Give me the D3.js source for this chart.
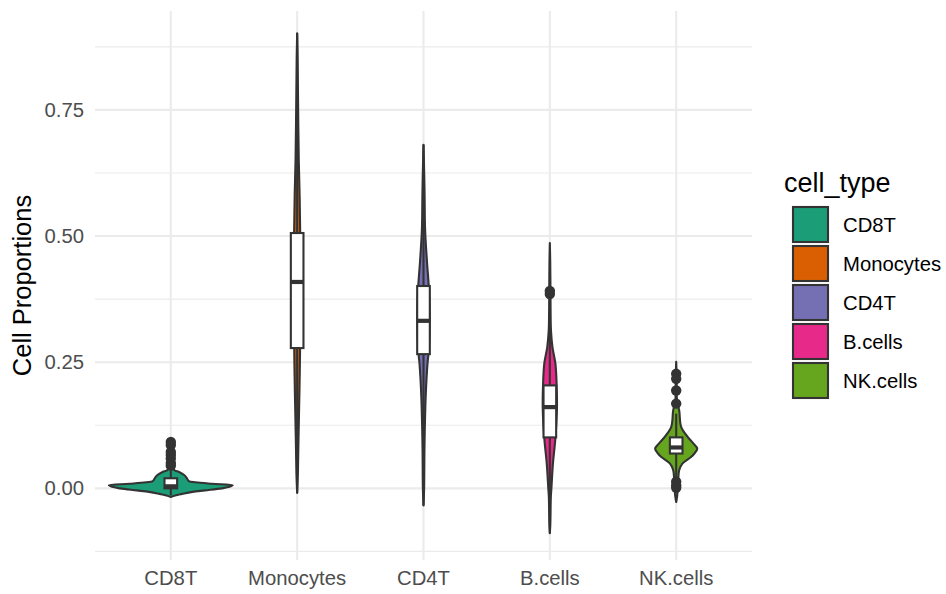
<!DOCTYPE html>
<html>
<head>
<meta charset="utf-8">
<script src="https://cdn.jsdelivr.net/npm/d3@7"></script>
<style>
  html, body { margin: 0; padding: 0; background: #ffffff; }
  svg { display: block; font-family: "Liberation Sans", Arial, Helvetica, sans-serif; }
</style>
</head>
<body>
<svg id="chart" width="946" height="594"></svg>
<script>
// Cell types in plotting order and their Dark2 fills
const categories = ["CD8T", "Monocytes", "CD4T", "B.cells", "NK.cells"];
const fillColors = ["#1B9E77", "#D95F02", "#7570B3", "#E7298A", "#66A61E"];

// Violin profiles: [proportion, relative density]
const densityCD8T = [[0.099,0],[0.09,0.02],[0.06,0.025],[0.04,0.04],[0.036,0.06],[0.032,0.14],[0.026,0.22],[0.02,0.26],[0.0145,0.29],[0.012,0.4],[0.009,0.67],[0.006,1.0],[0.003,0.95],[0.0,0.82],[-0.004,0.55],[-0.007,0.35],[-0.011,0.18],[-0.014,0.07],[-0.017,0]];
const densityMonocytes = [[0.902,0],[0.85,0.008],[0.75,0.016],[0.65,0.026],[0.58,0.04],[0.5,0.05],[0.41,0.056],[0.3,0.05],[0.2,0.038],[0.1,0.022],[0.03,0.012],[-0.009,0]];
const densityCD4T = [[0.681,0],[0.62,0.012],[0.578,0.018],[0.512,0.026],[0.446,0.058],[0.4,0.085],[0.33,0.1],[0.266,0.08],[0.248,0.065],[0.181,0.035],[0.082,0.016],[0.0,0.01],[-0.034,0]];
const densityBcells = [[0.486,0],[0.45,0.006],[0.39,0.01],[0.35,0.012],[0.313,0.018],[0.28,0.042],[0.247,0.09],[0.204,0.11],[0.16,0.115],[0.1,0.09],[0.049,0.05],[0.0,0.025],[-0.017,0.016],[-0.07,0.008],[-0.089,0]];
const densityNKcells = [[0.251,0],[0.22,0.008],[0.17,0.016],[0.155,0.048],[0.122,0.08],[0.102,0.185],[0.09,0.27],[0.079,0.34],[0.07,0.3],[0.062,0.24],[0.049,0.1],[0.036,0.048],[0.016,0.032],[0.0,0.024],[-0.015,0.016],[-0.027,0]];
const densities = [densityCD8T, densityMonocytes, densityCD4T, densityBcells, densityNKcells];

// Box plot summaries
const q1Values      = [0.0, 0.278, 0.266, 0.101, 0.069];
const medianValues  = [0.004, 0.409, 0.332, 0.161, 0.081];
const q3Values      = [0.02, 0.506, 0.401, 0.204, 0.101];
const whiskerLow    = [-0.014, -0.009, -0.034, -0.089, 0.022];
const whiskerHigh   = [0.038, 0.902, 0.681, 0.35, 0.148];
const outliers = [
  [0.092, 0.086, 0.072, 0.066, 0.059, 0.05, 0.045],
  [],
  [],
  [0.391, 0.385],
  [0.227, 0.217, 0.194, 0.168, 0.013, 0.006, 0.001]
];

// Axis ticks
const yMajorTicks = [0, 0.25, 0.5, 0.75];
const yTickLabels = ["0.00", "0.25", "0.50", "0.75"];
const yMinorTicks = [-0.125, 0.125, 0.375, 0.625, 0.875];

const svg = d3.select("#chart");
const panel = { left: 95, right: 752, top: 11, bottom: 560 };
const ink = "#333333";
const smallFont = 20.3, titleFont = 25.5, legendTitleFont = 27;

const x = d3.scaleBand()
  .domain(categories)
  .range([panel.left, panel.right])
  .paddingInner(0)
  .paddingOuter(0.1);
const cx = c => x(c) + x.bandwidth() / 2;

const y = d3.scaleLinear()
  .domain([-0.142, 0.946])
  .range([panel.bottom, panel.top]);

const halfWidth = d3.scaleLinear().domain([0, 1]).range([0, x.step() * 0.49]);

// Grid
const grid = svg.append("g");
grid.selectAll("line.minor").data(yMinorTicks).join("line")
  .attr("x1", panel.left).attr("x2", panel.right)
  .attr("y1", d => y(d)).attr("y2", d => y(d))
  .attr("stroke", "#ebebeb").attr("stroke-width", 1.1);
grid.selectAll("line.major").data(yMajorTicks).join("line")
  .attr("x1", panel.left).attr("x2", panel.right)
  .attr("y1", d => y(d)).attr("y2", d => y(d))
  .attr("stroke", "#ebebeb").attr("stroke-width", 2.1);
grid.selectAll("line.vert").data(categories).join("line")
  .attr("x1", d => cx(d)).attr("x2", d => cx(d))
  .attr("y1", panel.top).attr("y2", panel.bottom)
  .attr("stroke", "#ebebeb").attr("stroke-width", 2.1);

// Violins
const marks = svg.append("g");
categories.forEach((cat, i) => {
  const c = cx(cat);
  const area = d3.area()
    .y(d => y(d[0]))
    .x0(d => c - halfWidth(d[1]))
    .x1(d => c + halfWidth(d[1]))
    .curve(d3.curveCatmullRom);
  marks.append("path")
    .attr("d", area(densities[i]))
    .attr("fill", fillColors[i])
    .attr("stroke", ink)
    .attr("stroke-width", 2.1)
    .attr("stroke-linejoin", "round");
});

// Box plots
const boxW = x.step() * 0.1;
categories.forEach((cat, i) => {
  const c = cx(cat);
  const g = marks.append("g");
  g.append("line")
    .attr("x1", c).attr("x2", c)
    .attr("y1", y(q3Values[i])).attr("y2", y(whiskerHigh[i]))
    .attr("stroke", ink).attr("stroke-width", 2.1);
  g.append("line")
    .attr("x1", c).attr("x2", c)
    .attr("y1", y(q1Values[i])).attr("y2", y(whiskerLow[i]))
    .attr("stroke", ink).attr("stroke-width", 2.1);
  g.append("rect")
    .attr("x", c - boxW / 2).attr("width", boxW)
    .attr("y", y(q3Values[i])).attr("height", y(q1Values[i]) - y(q3Values[i]))
    .attr("fill", "#ffffff").attr("stroke", ink).attr("stroke-width", 2.1);
  g.append("line")
    .attr("x1", c - boxW / 2).attr("x2", c + boxW / 2)
    .attr("y1", y(medianValues[i])).attr("y2", y(medianValues[i]))
    .attr("stroke", ink).attr("stroke-width", 4.2);
  g.selectAll("circle").data(outliers[i]).join("circle")
    .attr("cx", c).attr("cy", d => y(d)).attr("r", 5.2)
    .attr("fill", ink);
});

// Axis labels
const axisText = "#4d4d4d";
svg.append("g").selectAll("text").data(yMajorTicks).join("text")
  .attr("x", 84).attr("y", d => y(d))
  .attr("dy", "0.35em")
  .attr("text-anchor", "end")
  .attr("font-size", smallFont).attr("fill", axisText)
  .text((d, i) => yTickLabels[i]);

svg.append("g").selectAll("text").data(categories).join("text")
  .attr("x", d => cx(d)).attr("y", 585)
  .attr("text-anchor", "middle")
  .attr("font-size", smallFont).attr("fill", axisText)
  .text(d => d);

svg.append("text")
  .attr("transform", `translate(31, ${(panel.top + panel.bottom) / 2}) rotate(-90)`)
  .attr("text-anchor", "middle")
  .attr("font-size", titleFont).attr("fill", "#000000")
  .text("Cell Proportions");

// Legend
const legend = svg.append("g").attr("transform", "translate(792, 0)");
legend.append("text")
  .attr("x", -8).attr("y", 192)
  .attr("font-size", legendTitleFont).attr("fill", "#000000")
  .text("cell_type");
const keyTop = 207, keyStep = 39, keySize = 35;
categories.forEach((cat, i) => {
  legend.append("rect")
    .attr("x", 1).attr("y", keyTop + i * keyStep)
    .attr("width", keySize).attr("height", keySize)
    .attr("fill", fillColors[i]).attr("stroke", ink).attr("stroke-width", 2.1);
  legend.append("text")
    .attr("x", 51).attr("y", keyTop + i * keyStep + keySize / 2)
    .attr("dy", "0.35em")
    .attr("font-size", smallFont).attr("fill", "#000000")
    .text(cat);
});
</script>
</body>
</html>
